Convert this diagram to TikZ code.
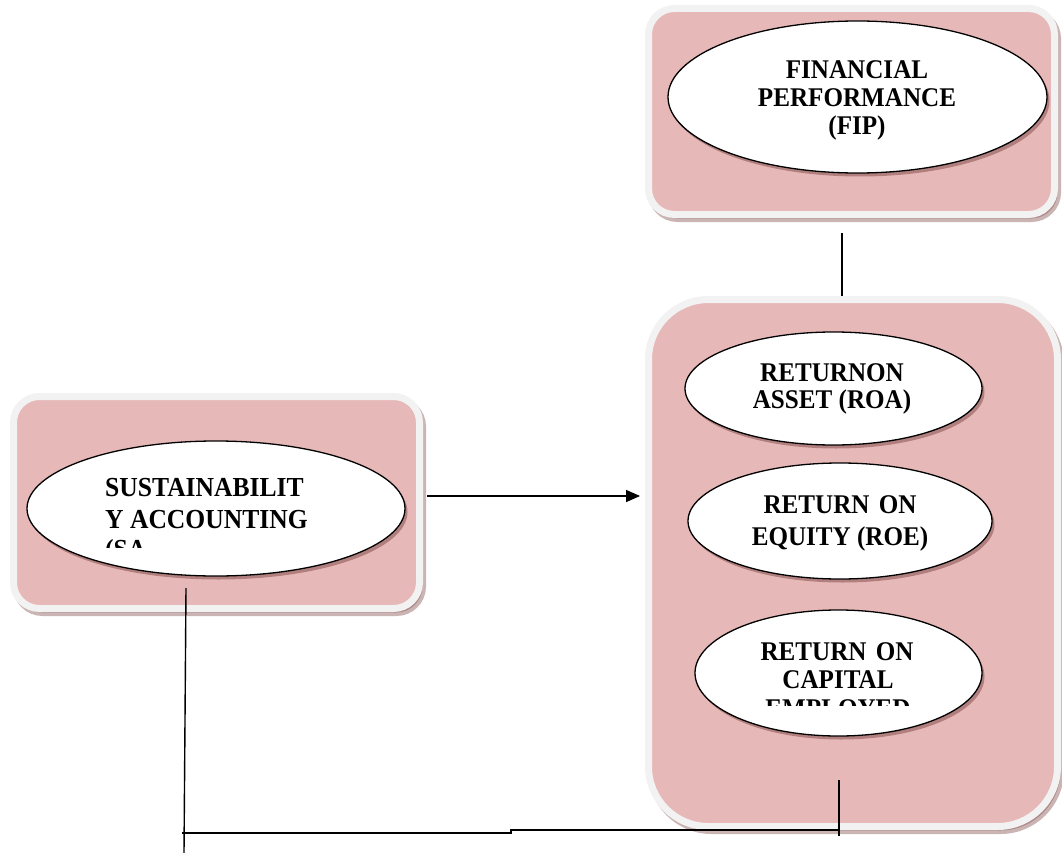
\documentclass[tikz,border=0pt]{standalone}
\usepackage{fontspec}
\setmainfont{Liberation Serif}[FakeStretch=0.93]
\usetikzlibrary{shapes.geometric,shadows,arrows.meta}
\definecolor{pinkfill}{HTML}{E6B8B7}
\definecolor{rimgray}{HTML}{F2F2F2}
\definecolor{shadowc}{HTML}{8C5A59}
\begin{document}
\begin{tikzpicture}[x=1pt,y=-1pt,
  panel/.style={rectangle,fill=pinkfill,draw=rimgray,line width=7pt,inner sep=0pt,
    drop shadow={shadow xshift=3pt,shadow yshift=-4pt,draw=shadowc,line width=7pt,fill=shadowc,opacity=.45}},
  oval/.style={ellipse,fill=white,draw=black,line width=1.3pt,inner sep=0pt,
    drop shadow={shadow xshift=2.5pt,shadow yshift=-3.5pt,fill=shadowc,opacity=.6}},
  lbl/.style={font=\fontsize{27}{31}\selectfont\bfseries,inner sep=0pt,anchor=base},
  lblsa/.style={font=\fontsize{27.5}{32}\selectfont\bfseries,inner sep=0pt,anchor=base west},
  conn/.style={draw=black,line width=1.4pt}]
\useasboundingbox (0,0) rectangle (1062,853);
\fill[white] (0,0) rectangle (1062,853);

% panels
\node[panel,rounded corners=26pt,minimum width=406pt,minimum height=206pt] (fipbox) at (851.5,111.5) {};
\node[panel,rounded corners=60pt,minimum width=409pt,minimum height=527pt] (midbox) at (853,563) {};
\node[panel,rounded corners=26pt,minimum width=406pt,minimum height=212pt] (sabox) at (216.5,502.5) {};

% ellipses
\node[oval,minimum width=379pt,minimum height=152pt] (fip) at (857.5,97) {};
\node[oval,minimum width=297pt,minimum height=113pt] (roa) at (833.5,388.5) {};
\node[oval,minimum width=304pt,minimum height=116pt] (roe) at (840,521) {};
\node[oval,minimum width=287pt,minimum height=126pt] (roce) at (838.5,673) {};
\node[oval,minimum width=378pt,minimum height=135pt] (sa) at (216,508.5) {};

% texts
\node[lbl] (fipa) at (857,79) {FINANCIAL};
\node[lbl] (fipb) at (857,107) {PERFORMANCE};
\node[lbl] (fipc) at (857,135) {(FIP)};

\node[lbl] (roaa) at (832,381) {RETURNON};
\node[lbl] (roab) at (832,408) {ASSET (ROA)};

\node[lbl] (roea) at (840,513) {RETURN\hspace{3pt} ON};
\node[lbl] (roeb) at (840,545) {EQUITY (ROE)};

\node[lbl] (rocea) at (837,660) {RETURN\hspace{3pt} ON};
\node[lbl] (roceb) at (838,688) {CAPITAL};
\begin{scope}
  \clip (700,690) rectangle (980,705);
  \node[lbl] (rocec) at (838,717) {EMPLOYED};
\end{scope}

\node[lblsa] (saa) at (105,496) {SUSTAINABILIT};
\node[lblsa] (sab) at (105,528) {Y ACCOUNTING};
\begin{scope}
  \clip (100,530) rectangle (320,547);
  \node[lblsa] (sac) at (105,558) {(SA};
\end{scope}

% connectors
\coordinate (t1) at (842,233);
\coordinate (t2) at (842,296);
\draw[conn] (t1) -- (t2);

\coordinate (a1) at (427,496);
\coordinate (a2) at (640,496);
\draw[conn,-{Triangle[length=14pt,width=12pt]}] (a1) -- (a2);

\coordinate (l1) at (186,588);
\coordinate (l2) at (184,853);
\draw[conn] (l1) -- (l2);

\coordinate (b1) at (182,833);
\coordinate (b2) at (511,833);
\coordinate (b3) at (511,830);
\coordinate (b4) at (839,830);
\draw[conn] (b1) -- (b2) -- (b3) -- (b4);

\coordinate (r1) at (839,780);
\coordinate (r2) at (839,836);
\draw[conn] (r1) -- (r2);
\end{tikzpicture}
\end{document}
